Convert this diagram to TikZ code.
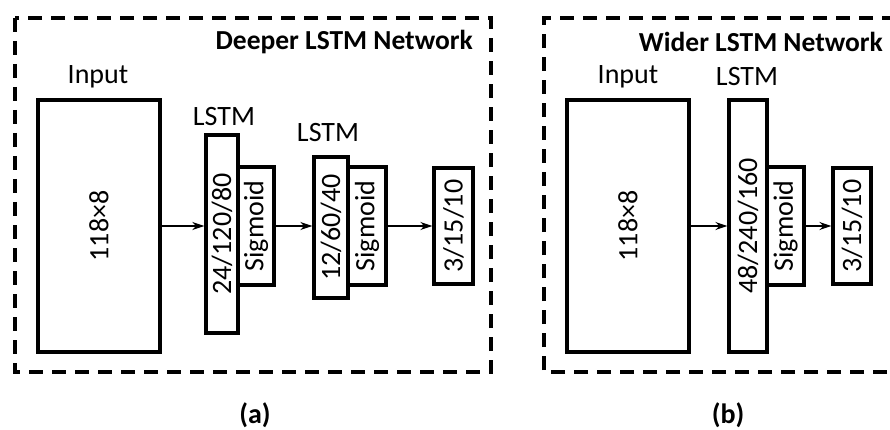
\documentclass[tikz,border=0pt]{standalone}
\usepackage{fontspec}
\setmainfont{Carlito}
\usetikzlibrary{arrows.meta}
\tikzset{blk/.style = {rectangle, line width=3.3pt, inner sep=0pt, draw, font=\fontsize{28}{32}\selectfont},
           lbl/.style = {inner sep=0pt, font=\fontsize{28}{32}\selectfont},
           ttl/.style = {inner sep=0pt, anchor=east, font=\fontsize{27.5}{32}\selectfont\bfseries},
           frm/.style = {line width=3.3pt, dash pattern=on 14pt off 9pt}}

\begin{document}
\begin{tikzpicture}[x=1pt, y=-1pt, >={Stealth[length=12pt,width=8pt]}]
    \clip (0,0) rectangle (890,430);
    % (a) deeper network
    \draw[frm] (15,18) rectangle (491,372);
    \node[ttl] (ta) at (473,42) {Deeper LSTM Network};
    \node[lbl] (ia) at (98,77) {Input};
    \node[blk, minimum width=122, minimum height=252] (in1) at (99,226) {\rotatebox{90}{118×8}};
    \node[lbl] (la) at (224,117) {LSTM};
    \node[blk, minimum width=32, minimum height=198] (l1) at (222,234) {\rotatebox{90}{24/120/80}};
    \node[blk, minimum width=36, minimum height=118] (s1) at (256,226) {\rotatebox{90}{Sigmoid}};
    \node[lbl] (lb) at (328,133) {LSTM};
    \node[blk, minimum width=34, minimum height=141] (l2) at (331,227.5) {\rotatebox{90}{12/60/40}};
    \node[blk, minimum width=38, minimum height=118] (s2) at (367,226) {\rotatebox{90}{Sigmoid}};
    \node[blk, minimum width=39, minimum height=116] (o1) at (453.5,226) {\rotatebox{90}{3/15/10}};
    \draw[->, line width=2pt] (in1.east) -- (in1.east -| l1.west);
    \draw[->, line width=2pt] (s1.east) -- (s1.east -| l2.west);
    \draw[->, line width=2pt] (s2.east) -- (o1.west);
    \node[lbl, font=\fontsize{28}{32}\selectfont\bfseries] (ca) at (255,415) {(a)};
    % (b) wider network
    \draw[frm] (910,372) -- (544,372) -- (544,18) -- (910,18);
    \node[ttl] (tb) at (883,42) {Wider LSTM Network};
    \node[lbl] (ib) at (628,77) {Input};
    \node[blk, minimum width=122, minimum height=252] (in2) at (628,226) {\rotatebox{90}{118×8}};
    \node[lbl] (lc) at (747,77) {LSTM};
    \node[blk, minimum width=38, minimum height=252] (l3) at (748,226) {\rotatebox{90}{48/240/160}};
    \node[blk, minimum width=37, minimum height=118] (s3) at (785.5,226) {\rotatebox{90}{Sigmoid}};
    \node[blk, minimum width=38, minimum height=116] (o2) at (852,226) {\rotatebox{90}{3/15/10}};
    \draw[->, line width=2pt] (in2.east) -- (l3.west);
    \draw[->, line width=2pt] (s3.east) -- (o2.west);
    \node[lbl, font=\fontsize{28}{32}\selectfont\bfseries] (cb) at (728,415) {(b)};
  \end{tikzpicture}
\end{document}
